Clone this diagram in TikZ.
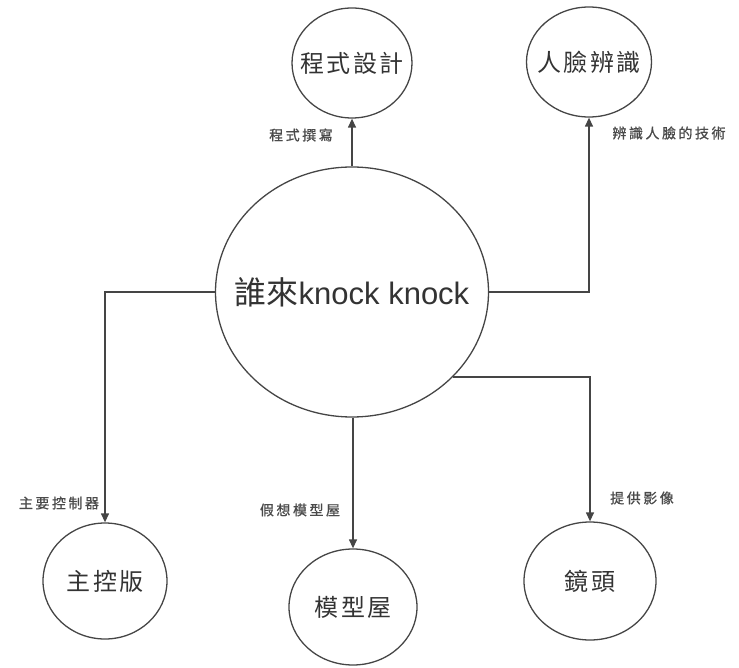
\documentclass[tikz,border=0pt]{standalone}
\usepackage{fontspec}
\setmainfont{Liberation Sans}
\newfontfamily\cjk{Noto Sans CJK TC}
\newfontfamily\cjklab[LetterSpace=18,FakeBold=0.8]{Noto Sans CJK TC}
\newfontfamily\cjkbig[LetterSpace=10]{Noto Sans CJK TC}
\newcommand\zwbox[1]{\makebox[0pt]{#1}}
\usetikzlibrary{shapes.geometric,arrows.meta}
\definecolor{linec}{HTML}{454545}
\definecolor{txtc}{HTML}{333333}
\definecolor{labc}{HTML}{4A4A4A}
\tikzset{
  bubble/.style={ellipse, draw=linec, line width=1.3pt, inner sep=0pt, text=txtc,
    font=\cjkbig\fontsize{24}{28}\selectfont},
  conn/.style={draw=linec, line width=1.3pt, -{Triangle[length=9pt,width=8pt]}},
  lab/.style={text=labc, font=\cjklab\fontsize{14}{16}\selectfont, inner sep=0pt}
}
\begin{document}
\begin{tikzpicture}[x=1pt,y=-1pt]
\useasboundingbox (0,0) rectangle (739,668);
\node[bubble, minimum width=273pt, minimum height=250pt] (c) at (352,292)
  {\zwbox{{\cjk\fontsize{32}{36}\selectfont 誰來}{\rmfamily\fontsize{31}{36}\selectfont knock knock}}};
\node[bubble, minimum width=120pt, minimum height=110pt] (prog) at (352,63) {\zwbox{程式設計}};
\node[bubble, minimum width=125pt, minimum height=110pt] (face) at (589,62) {\zwbox{人臉辨識}};
\node[bubble, minimum width=124pt, minimum height=116pt] (main) at (105,581) {\zwbox{主控版}};
\node[bubble, minimum width=128pt, minimum height=116pt] (model) at (353,607) {\zwbox{模型屋}};
\node[bubble, minimum width=132pt, minimum height=118pt] (cam) at (590,581) {\zwbox{鏡頭}};
\draw[conn] (c.north) -- (prog.south);
\draw[conn] (c.east) -| (face.south);
\draw[conn] (c.west) -| (main.north);
\draw[conn] (c.south -| model.north) -- (model.north);
\draw[conn] (c.-40.7) -| (cam.north);
\node[lab] (l1) at (301,135) {程式撰寫};
\node[lab] (l2) at (669,133) {辨識人臉的技術};
\node[lab] (l3) at (59,503) {主要控制器};
\node[lab] (l4) at (300,510) {假想模型屋};
\node[lab] (l5) at (642,498) {提供影像};
\end{tikzpicture}
\end{document}
